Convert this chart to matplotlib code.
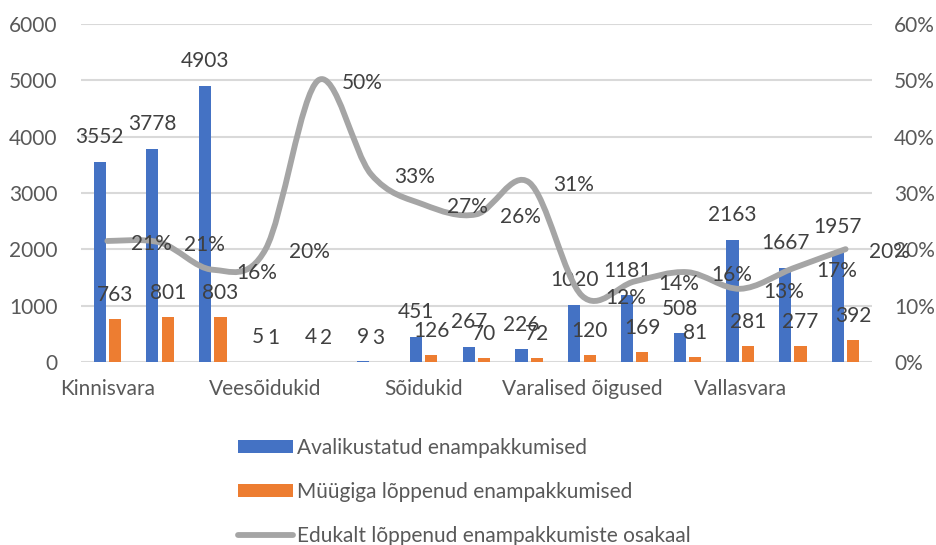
import matplotlib
matplotlib.use("Agg")
import matplotlib.pyplot as plt
from matplotlib.path import Path
from matplotlib.patches import PathPatch, Patch
from matplotlib.lines import Line2D
import numpy as np

plt.rcParams['font.family'] = ['Lato', 'DejaVu Sans']

cat_labels = ["Kinnisvara", "", "", "Veesõidukid", "", "", "Sõidukid", "", "",
              "Varalised õigused", "", "", "Vallasvara", "", ""]
published = [3552, 3778, 4903, 5, 4, 9, 451, 267, 226, 1020, 1181, 508, 2163, 1667, 1957]
sold = [763, 801, 803, 1, 2, 3, 126, 70, 72, 120, 169, 81, 281, 277, 392]
share_labels = ["21%", "21%", "16%", "20%", "50%", "33%", "27%", "26%", "31%", "12%", "14%", "16%", "13%", "17%", "20%"]
share_pos = [763/3552, 801/3778, 803/4903, 1/5, 2/4, 3/9, 126/451, 70/267, 72/226,
             120/1020, 169/1181, 81/508, 281/2163, 277/1667, 392/1957]

names = ["Avalikustatud enampakkumised", "Müügiga lõppenud enampakkumised",
         "Edukalt lõppenud enampakkumiste osakaal"]

BLUE = "#4472C4"
ORANGE = "#ED7D31"
GRAY = "#A5A5A5"
GRID = "#D9D9D9"
TXT = "#595959"
LBL = "#404040"
FS = 15

fig = plt.figure(figsize=(9.37, 5.45), dpi=100)
ax = fig.add_axes([0.0864, 0.3358, 0.8442, 0.6202])
ax2 = ax.twinx()

n = len(published)
x = np.arange(n)
bw = 0.23
off = 0.145
ax.bar(x - off, published, bw, color=BLUE, zorder=2)
ax.bar(x + off, sold, bw, color=ORANGE, zorder=2)

ax.set_xlim(-0.5, n - 0.5)
ax.set_ylim(0, 6000)
ax.set_yticks(np.arange(0, 6001, 1000))
ax.grid(axis='y', color=GRID, linewidth=1.5, zorder=0)
ax.set_axisbelow(True)
for s in ax.spines.values():
    s.set_visible(False)
for s in ax2.spines.values():
    s.set_visible(False)
ax.tick_params(axis='both', length=0, labelsize=FS, labelcolor=TXT)
ax.tick_params(axis='y', pad=17)
ax.tick_params(axis='x', pad=12)
ax.set_xticks(x)
ax.set_xticklabels(cat_labels)

ax2.set_ylim(0, 0.6)
ax2.set_yticks(np.arange(0, 0.61, 0.1))
ax2.set_yticklabels([f"{int(round(v*100))}%" for v in np.arange(0, 0.61, 0.1)])
ax2.tick_params(axis='y', length=0, labelsize=FS, labelcolor=TXT, pad=16)

# smoothed line (Catmull-Rom style Bezier like Excel)
P = np.column_stack([x, share_pos])
verts = [tuple(P[0])]
codes = [Path.MOVETO]
for i in range(n - 1):
    p0 = P[i - 1] if i > 0 else P[i]
    p1 = P[i]
    p2 = P[i + 1]
    p3 = P[i + 2] if i + 2 < n else P[i + 1]
    c1 = p1 + (p2 - p0) / 6.0
    c2 = p2 - (p3 - p1) / 6.0
    verts += [tuple(c1), tuple(c2), tuple(p2)]
    codes += [Path.CURVE4] * 3
patch = PathPatch(Path(verts, codes), facecolor='none', edgecolor=GRAY, lw=4.2,
                  capstyle='round', joinstyle='round', zorder=3)
ax2.add_patch(patch)

# bar labels
for xi, v in zip(x, published):
    ax.annotate(str(v), (xi - off, v), xytext=(0, 13.5), textcoords='offset points',
                ha='center', va='baseline', fontsize=FS, color=LBL, zorder=5)
for xi, v in zip(x, sold):
    ax.annotate(str(v), (xi + off, v), xytext=(0, 13), textcoords='offset points',
                ha='center', va='baseline', fontsize=FS, color=LBL, zorder=5)
for xi, v, t in zip(x, share_pos, share_labels):
    ax2.annotate(t, (xi, v), xytext=(17, -2), textcoords='offset points',
                 ha='left', va='center', fontsize=FS, color=LBL, zorder=5)

handles = [Patch(facecolor=BLUE), Patch(facecolor=ORANGE),
           Line2D([0], [0], color=GRAY, lw=4.2, solid_capstyle='round')]
fig.legend(handles, names, loc='upper left', bbox_to_anchor=(238/937, 1 - 438/545),
           frameon=False, fontsize=FS, labelcolor=TXT, handlelength=2.64, handleheight=0.58,
           handletextpad=0.2, labelspacing=1.15, borderaxespad=0, borderpad=0)

fig.savefig("out.png", dpi=100)
